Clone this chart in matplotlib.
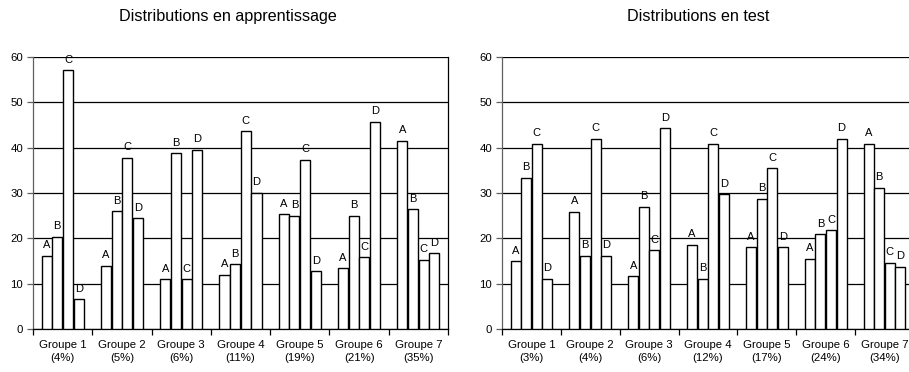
## Bar charts of class distributions per group, learning set vs test set.
import numpy as np
import matplotlib
matplotlib.use("Agg")
import matplotlib.pyplot as plt

plt.rcParams['font.family'] = ['Liberation Sans', 'DejaVu Sans']

letters = ["A", "B", "C", "D"]
groups = ["Groupe 1", "Groupe 2", "Groupe 3", "Groupe 4", "Groupe 5", "Groupe 6", "Groupe 7"]

train_pct = ["4%", "5%", "6%", "11%", "19%", "21%", "35%"]
train_A = [16.2, 13.9, 11.0, 11.9, 25.3, 13.4, 41.5]
train_B = [20.4, 26.0, 38.8, 14.3, 25.0, 25.0, 26.4]
train_C = [57.1, 37.8, 11.0, 43.6, 37.3, 15.8, 15.3]
train_D = [6.6, 24.4, 39.5, 30.1, 12.7, 45.7, 16.7]

test_pct = ["3%", "4%", "6%", "12%", "17%", "24%", "34%"]
test_A = [14.9, 25.8, 11.6, 18.6, 18.0, 15.5, 40.8]
test_B = [33.4, 16.2, 27.0, 11.1, 28.7, 20.9, 31.1]
test_C = [40.8, 42.0, 17.4, 40.8, 35.5, 21.8, 14.6]
test_D = [11.1, 16.2, 44.3, 29.7, 18.0, 42.0, 13.7]


def draw(ax, series, pct, title, title_x):
    x = np.arange(len(groups))
    w = 0.18
    for i, vals in enumerate(series):
        pos = x + (i - 1.5) * w
        ax.bar(pos, vals, width=w * 0.94, color="white", edgecolor="black",
               linewidth=1.0, zorder=3)
        for p, v in zip(pos, vals):
            ax.annotate(letters[i], (p, v), xytext=(0, 4), textcoords="offset points",
                        ha="center", va="bottom", fontsize=8, zorder=4)
    ax.set_xlim(-0.5, len(groups) - 0.5)
    ax.set_ylim(0, 60)
    ax.set_yticks(range(0, 61, 10))
    ax.yaxis.grid(True, color="black", linewidth=0.9, zorder=0)
    ax.set_axisbelow(True)
    ax.set_xticks(x)
    ax.set_xticklabels([g + "\n(" + p + ")" for g, p in zip(groups, pct)], fontsize=8.2,
                       linespacing=1.3)
    ax.set_xticks(np.arange(len(groups) + 1) - 0.5, minor=True)
    ax.tick_params(axis="x", which="major", length=0, pad=8)
    ax.tick_params(axis="x", which="minor", length=4, width=0.9, direction="out")
    ax.tick_params(axis="y", length=4, width=0.9, labelsize=8.2, pad=3, color="#606060")
    for s in ax.spines.values():
        s.set_color("black")
        s.set_linewidth(0.9)
    ax.spines["left"].set_color("#606060")
    ax.spines["top"].set_visible(False)
    ax.set_title(title, fontsize=11.6, pad=26, x=title_x)


if __name__ == '__main__':
    fig = plt.figure(figsize=(9.09, 3.72), dpi=100)
    ax1 = fig.add_axes([33 / 909, 43 / 372, 415 / 909, 272 / 372])
    ax2 = fig.add_axes([502 / 909, 43 / 372, 412 / 909, 272 / 372])
    draw(ax1, [train_A, train_B, train_C, train_D], train_pct, "Distributions en apprentissage", 0.47)
    draw(ax2, [test_A, test_B, test_C, test_D], test_pct, "Distributions en test", 0.475)
    fig.savefig("out.png", dpi=100)
